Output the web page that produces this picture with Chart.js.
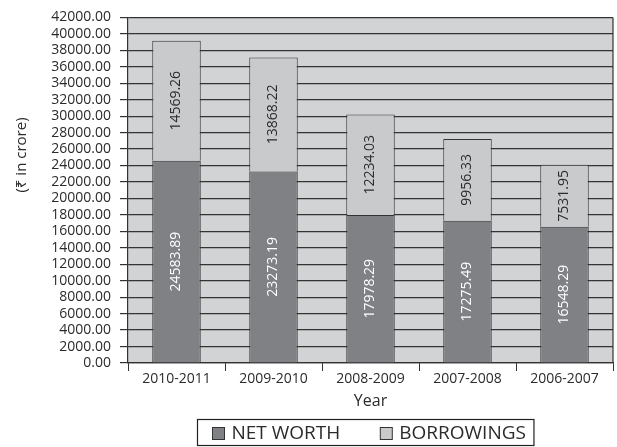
<!DOCTYPE html>
<html lang="en">
<head>
    <meta charset="UTF-8">
    <title>Net Worth and Borrowings</title>
    <script src="https://cdn.jsdelivr.net/npm/chart.js"></script>
    <style>
        body { margin: 0; background: #fff; }
        #wrap { width: 617px; height: 447px; position: relative; }
    </style>
</head>
<body>
    <div id="wrap"><canvas id="finChart"></canvas></div>
    <script>
        const years = ['2010-2011', '2009-2010', '2008-2009', '2007-2008', '2006-2007'];
        const netWorth = [24583.89, 23273.19, 17978.29, 17275.49, 16548.29];
        const borrowings = [14569.26, 13868.22, 12234.03, 9956.33, 7531.95];
        const yTitle = '(\u20B9 in crore)';
        const xTitle = 'Year';

        const FONT = '"Open Sans", "Noto Sans", sans-serif';
        const INK = '#2b2b2b';

        // grey plot background + right border line
        const plotBg = {
            id: 'plotBg',
            beforeDraw(chart) {
                const a = chart.chartArea, c = chart.ctx;
                c.save();
                c.fillStyle = '#d2d3d5';
                c.fillRect(a.left, a.top, a.right - a.left, a.bottom - a.top);
                c.restore();
            },
            afterDraw(chart) {
                const a = chart.chartArea, c = chart.ctx;
                c.save();
                c.strokeStyle = '#333';
                c.lineWidth = 1.2;
                c.beginPath();
                c.moveTo(a.right, a.top);
                c.lineTo(a.right, a.bottom);
                c.stroke();
                c.restore();
            }
        };

        // rotated value labels inside each segment
        const barLabels = {
            id: 'barLabels',
            afterDatasetsDraw(chart) {
                const c = chart.ctx;
                chart.data.datasets.forEach((ds, i) => {
                    const meta = chart.getDatasetMeta(i);
                    meta.data.forEach((el, j) => {
                        const cy = (el.y + el.base) / 2;
                        c.save();
                        c.translate(el.x, cy);
                        c.rotate(-Math.PI / 2);
                        c.font = '14px ' + FONT;
                        c.fillStyle = ds.labelColor;
                        c.textAlign = 'center';
                        c.textBaseline = 'middle';
                        c.fillText(ds.data[j].toFixed(2), 0, 0);
                        c.restore();
                    });
                });
            }
        };

        // y title placed like the original, plus boxed legend
        const extras = {
            id: 'extras',
            afterDraw(chart) {
                const c = chart.ctx;
                c.save();
                c.translate(22, 155);
                c.rotate(-Math.PI / 2);
                c.font = '15px ' + FONT;
                c.fillStyle = INK;
                c.textAlign = 'center';
                c.textBaseline = 'middle';
                c.fillText(yTitle, 0, 0);
                c.restore();

                // legend
                c.save();
                c.font = '19px ' + FONT;
                const items = chart.data.datasets.map(ds => ({ text: ds.label, color: ds.backgroundColor }));
                const sq = 12, gapTxt = 7, gapItem = 40, padL = 15, padR = 8;
                let w = padL + padR;
                items.forEach((it, k) => {
                    it.w = sq + gapTxt + c.measureText(it.text).width;
                    w += it.w + (k ? gapItem : 0);
                });
                const cx = (chart.chartArea.left + chart.chartArea.right) / 2 - 5;
                const left = Math.round(cx - w / 2) + 0.5, top = 419.5, h = 26;
                c.strokeStyle = '#222';
                c.lineWidth = 1.2;
                c.strokeRect(left, top, w, h);
                let x = left + padL;
                items.forEach(it => {
                    c.fillStyle = it.color;
                    c.fillRect(x, top + 8, sq, sq);
                    c.strokeStyle = '#333';
                    c.lineWidth = 1;
                    c.strokeRect(x, top + 8, sq, sq);
                    c.fillStyle = INK;
                    c.textBaseline = 'middle';
                    c.fillText(it.text, x + sq + gapTxt, top + h / 2 + 1);
                    x += it.w + gapItem;
                });
                c.restore();
            }
        };

        new Chart(document.getElementById('finChart'), {
            type: 'bar',
            data: {
                labels: years,
                datasets: [{
                    label: 'NET WORTH',
                    data: netWorth,
                    backgroundColor: '#808184',
                    borderColor: '#333',
                    borderWidth: 1,
                    labelColor: '#ffffff'
                }, {
                    label: 'BORROWINGS',
                    data: borrowings,
                    backgroundColor: '#c9cacc',
                    borderColor: '#333',
                    borderWidth: 1,
                    labelColor: INK
                }]
            },
            options: {
                responsive: true,
                maintainAspectRatio: false,
                animation: false,
                devicePixelRatio: 1,
                layout: { padding: { left: 0, right: 4, top: 4, bottom: 32 } },
                datasets: { bar: { barPercentage: 0.5, categoryPercentage: 1 } },
                plugins: {
                    legend: { display: false },
                    tooltip: { enabled: false }
                },
                scales: {
                    x: {
                        stacked: true,
                        grid: { drawOnChartArea: false, color: '#333', tickLength: 8, offset: true },
                        border: { color: '#333', width: 1.2 },
                        ticks: { color: INK, font: { family: FONT, size: 14 }, padding: 0 },
                        title: { display: true, text: xTitle, color: INK, font: { family: FONT, size: 16 }, padding: { top: 4, bottom: 4 } }
                    },
                    y: {
                        stacked: true,
                        min: 0,
                        max: 42000,
                        grid: { color: '#333', lineWidth: 1.2, tickLength: 8 },
                        border: { color: '#333', width: 1.2 },
                        ticks: {
                            stepSize: 2000,
                            autoSkip: false,
                            color: INK,
                            font: { family: FONT, size: 14 },
                            padding: 9,
                            callback: v => v.toFixed(2)
                        },
                        afterFit: s => { s.width = 128; }
                    }
                }
            },
            plugins: [plotBg, barLabels, extras]
        });
    </script>
</body>
</html>
